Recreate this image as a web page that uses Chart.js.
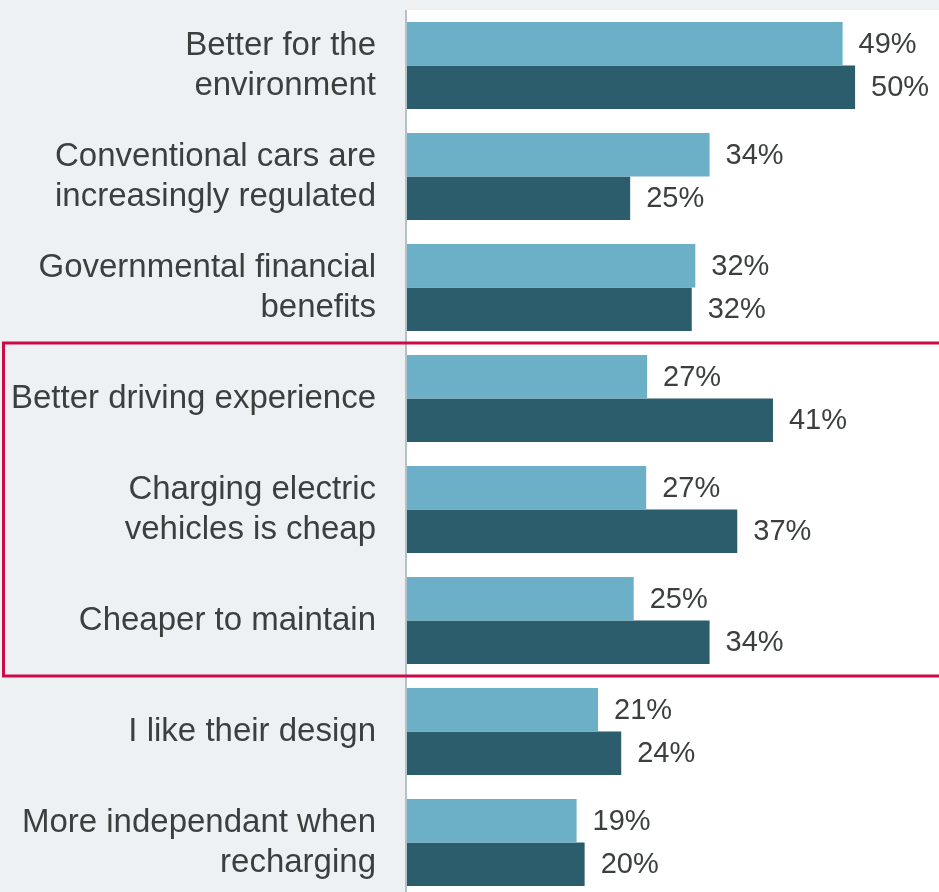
<!DOCTYPE html>
<html>
<head>
<meta charset="utf-8">
<script src="https://cdn.jsdelivr.net/npm/chart.js@4.4.1/dist/chart.umd.min.js"></script>
<style>
    html, body { margin: 0; padding: 0; background: #edf1f4; overflow: hidden; }
    #wrap { position: relative; width: 939px; height: 900px; }
</style>
</head>
<body>
<div id="wrap"><canvas id="chart"></canvas></div>
<script>
// Reasons for buying an electric vehicle, two survey groups
const categories = [
    ['Better for the', 'environment'],
    ['Conventional cars are', 'increasingly regulated'],
    ['Governmental financial', 'benefits'],
    'Better driving experience',
    ['Charging electric', 'vehicles is cheap'],
    'Cheaper to maintain',
    'I like their design',
    ['More independant when', 'recharging']
];
const lightValues = [48.8, 33.9, 32.3, 26.9, 26.8, 25.4, 21.4, 19.0];
const darkValues = [50.2, 25.0, 31.9, 41.0, 37.0, 33.9, 24.0, 19.9];
const lightLabels = ['49%', '34%', '32%', '27%', '27%', '25%', '21%', '19%'];
const darkLabels = ['50%', '25%', '32%', '41%', '37%', '34%', '24%', '20%'];
const highlightRange = [3, 5]; // categories inside the red frame

const lightColor = '#6bb0c7';
const darkColor = '#2b5d6d';
const textColor = '#3b3f3e';
const fontFamily = '"Helvetica Neue", "Liberation Sans", Arial, sans-serif';

// White plot background + left axis line
const plotBackground = {
    id: 'plotBackground',
    beforeDraw(chart) {
        const { ctx, chartArea } = chart;
        ctx.save();
        ctx.fillStyle = '#ffffff';
        ctx.fillRect(chartArea.left, chartArea.top, chart.width - chartArea.left, chart.height - chartArea.top);
        ctx.strokeStyle = '#b4c1ca';
        ctx.lineWidth = 2;
        ctx.beginPath();
        ctx.moveTo(chartArea.left - 1, chartArea.top);
        ctx.lineTo(chartArea.left - 1, chart.height);
        ctx.stroke();
        ctx.restore();
    }
};

// Percentage labels at bar ends
const valueLabels = {
    id: 'valueLabels',
    afterDatasetsDraw(chart) {
        const { ctx } = chart;
        const texts = [lightLabels, darkLabels];
        ctx.save();
        ctx.font = '29px ' + fontFamily;
        ctx.fillStyle = textColor;
        ctx.textBaseline = 'middle';
        ctx.textAlign = 'left';
        chart.data.datasets.forEach((ds, d) => {
            chart.getDatasetMeta(d).data.forEach((bar, i) => {
                ctx.fillText(texts[d][i], bar.x + 16, bar.y + 1);
            });
        });
        ctx.restore();
    }
};

// Red frame around the highlighted categories
const highlightFrame = {
    id: 'highlightFrame',
    afterDraw(chart) {
        const { ctx } = chart;
        const y = chart.scales.y;
        const half = (y.getPixelForValue(1) - y.getPixelForValue(0)) / 2;
        const top = y.getPixelForValue(highlightRange[0]) - half;
        const bottom = y.getPixelForValue(highlightRange[1]) + half;
        ctx.save();
        ctx.strokeStyle = '#cc0a46';
        ctx.lineWidth = 3;
        ctx.strokeRect(3.5, top, chart.width + 10, bottom - top);
        ctx.restore();
    }
};

new Chart(document.getElementById('chart'), {
    type: 'bar',
    data: {
        labels: categories,
        datasets: [
            {
                label: 'Light',
                data: lightValues,
                backgroundColor: lightColor,
                borderWidth: 0,
                barPercentage: 1,
                categoryPercentage: 0.784
            },
            {
                label: 'Dark',
                data: darkValues,
                backgroundColor: darkColor,
                borderWidth: 0,
                barPercentage: 1,
                categoryPercentage: 0.784
            }
        ]
    },
    options: {
        indexAxis: 'y',
        responsive: true,
        maintainAspectRatio: false,
        animation: false,
        layout: {
            padding: { top: 10, right: 0, bottom: 2, left: 0 }
        },
        plugins: {
            legend: { display: false },
            tooltip: { enabled: false }
        },
        scales: {
            x: {
                display: false,
                min: 0,
                max: 59.6
            },
            y: {
                grid: { display: false, drawTicks: false },
                border: { display: false },
                ticks: {
                    color: textColor,
                    padding: 31,
                    font: { family: fontFamily, size: 33, lineHeight: 1.212 }
                },
                afterFit(scale) {
                    scale.width = 407;
                    scale.paddingTop = 0;
                    scale.paddingBottom = 0;
                }
            }
        }
    },
    plugins: [plotBackground, valueLabels, highlightFrame]
});
</script>
</body>
</html>
